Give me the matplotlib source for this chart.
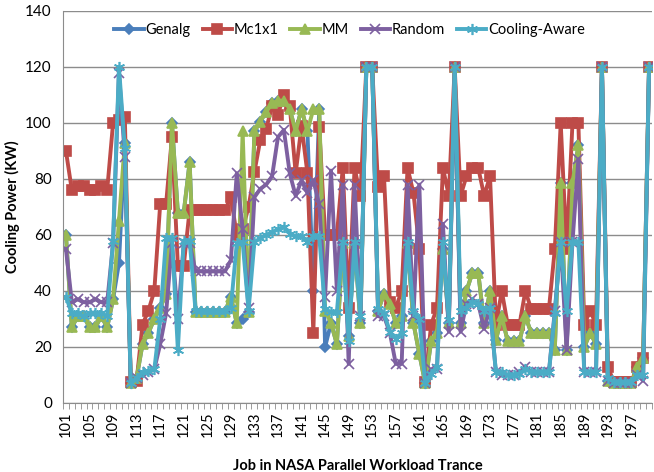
import numpy as np
import matplotlib
matplotlib.use('Agg')
import matplotlib.pyplot as plt

plt.rcParams['font.family'] = ['Lato', 'DejaVu Sans']

jobs = list(range(101, 201))

mc1x1 = [90, 76, 77.5, 77.5, 76, 76, 77.5, 76, 100, 101,
         102, 7.5, 8, 28, 33, 40, 71, 71, 95, 49,
         49, 69, 69, 69, 69, 69, 69, 69, 73.5, 60,
         62, 70, 82.5, 94, 98, 106, 103, 110, 106, 82,
         99, 82, 25, 98.5, 60, 60, 60, 84, 34, 84,
         74, 120, 120, 77, 81, 36, 34, 40, 84, 75,
         55, 7.5, 28, 34, 84, 74, 120, 74, 81, 84,
         84, 74, 81, 28, 40, 28, 28, 28, 40, 33.5,
         33.5, 33.5, 33.5, 55, 100, 55, 100, 100, 28, 33,
         28, 120, 13, 7.5, 7.5, 7.5, 7.5, 13, 16, 120]

mm = [60, 27, 31, 31, 27, 27, 31, 27, 37, 65,
      93, 7, 9, 21, 25, 30, 34, 39, 100, 68,
      68, 86, 32.5, 32.5, 32.5, 32.5, 32.5, 32.5, 38, 28.5,
      97, 32.5, 97, 100.5, 104, 107, 108, 108, 105, 97,
      105, 97, 105, 105, 33, 28.5, 21, 57, 24, 57,
      28.5, 120, 120, 33, 39, 35.5, 28.5, 31, 57, 28.5,
      17.5, 7, 22, 25, 55, 28.5, 120, 28.5, 40, 46.5,
      46.5, 28.5, 40, 22.5, 31, 22, 22, 22, 31, 25,
      25, 25, 25, 19, 78.5, 19, 78.5, 92, 20, 25,
      21, 120, 8, 7, 7, 7, 7, 13, 16, 120]

genalg = list(mm)
genalg[9] = 50
genalg[30] = 30
genalg[42] = 40
genalg[44] = 20

random_ = [55, 36, 37, 36, 36, 37, 36, 36, 57, 118,
           88, 7, 9, 10, 11, 12, 21, 32, 57, 30,
           57, 57, 47, 47, 47, 47, 47, 47, 51, 82,
           62, 34, 73.5, 76.5, 78, 81, 95, 97.5, 82, 74,
           79.5, 75, 79.5, 71, 38, 83, 40, 78, 14, 78,
           31, 120, 120, 31, 31, 25, 14, 14, 78, 31,
           78, 7, 12, 12, 64, 25.5, 120, 25.5, 35.5, 37,
           35.5, 26.5, 34, 11, 10, 10, 10, 11, 13, 11,
           11, 11, 11, 33, 57.5, 19, 57.5, 87, 11, 11,
           11, 120, 8, 7, 7, 7, 7, 10, 8, 120]

cooling = [38, 32, 32, 31, 32, 32, 32, 31, 58, 120,
           91, 7, 9, 11, 11.5, 12, 30, 59, 59, 19,
           58, 58, 33, 33, 33, 33, 33, 33, 34, 57,
           57.5, 33, 57.5, 58.8, 60, 61, 62, 63, 60.5, 59.5,
           59.5, 57.5, 59.5, 59.5, 33.5, 32.5, 32.5, 57.5, 22, 57.5,
           31, 120, 120, 33.5, 32, 25.5, 23, 25, 57.5, 33,
           30, 7, 10.5, 13, 57.5, 29.5, 120, 33, 34, 36,
           35.5, 33, 34, 11, 11, 10, 10, 10.5, 12, 11,
           11, 11, 11, 32, 57.5, 33, 57.5, 57.5, 11, 11,
           11, 120, 9, 7.5, 7.5, 7.5, 7.5, 10, 10, 120]

series = [
    ('Genalg', genalg, '#4A7EBB', 'D', 5.5),
    ('Mc1x1', mc1x1, '#BE4B48', 's', 7.5),
    ('MM', mm, '#98B954', '^', 7.5),
    ('Random', random_, '#7D60A0', 'x', 7),
    ('Cooling-Aware', cooling, '#4BACC6', (6, 2, 0), 8),
]

fig = plt.figure(figsize=(6.54, 4.72), dpi=100)
ax = fig.add_axes([63/654, 69/472, 589/654, 392/472])

x = np.arange(len(jobs))
for name, vals, col, mk, ms in series:
    ax.plot(x, vals, color=col, lw=2.8, marker=mk, markersize=ms,
            markerfacecolor=col, markeredgecolor=col, markeredgewidth=1.2,
            label=name, solid_joinstyle='round')

ax.set_xlim(-0.5, len(jobs) - 0.5)
ax.set_ylim(0, 140)
ax.set_yticks(np.arange(0, 141, 20))
ax.yaxis.grid(True, color='#8c8c8c', lw=1)
ax.set_axisbelow(True)

ax.set_xticks(x[::4])
ax.set_xticklabels([str(j) for j in jobs[::4]], rotation=90)
ax.set_xticks(np.arange(-0.5, len(jobs), 1), minor=True)
ax.tick_params(axis='x', which='major', length=0, labelsize=10.5, pad=6)
ax.tick_params(axis='x', which='minor', length=4, color='#8c8c8c')
ax.tick_params(axis='y', length=0, labelsize=11, pad=8)

for s in ['top', 'right']:
    ax.spines[s].set_visible(False)
for s in ['left', 'bottom']:
    ax.spines[s].set_color('#8c8c8c')

ax.set_ylabel('Cooling Power (KW)', fontsize=10.5, fontweight='bold', labelpad=4)
ax.set_xlabel('Job in NASA Parallel Workload Trance', fontsize=10.5,
              fontweight='bold', labelpad=16)

ax.legend(loc='upper center', bbox_to_anchor=(0.487, 1.0), ncol=5, frameon=False,
          fontsize=10.5, handlelength=2.0, handletextpad=0.15, columnspacing=0.8,
          borderaxespad=0.4)

fig.savefig('out.png', dpi=100)
